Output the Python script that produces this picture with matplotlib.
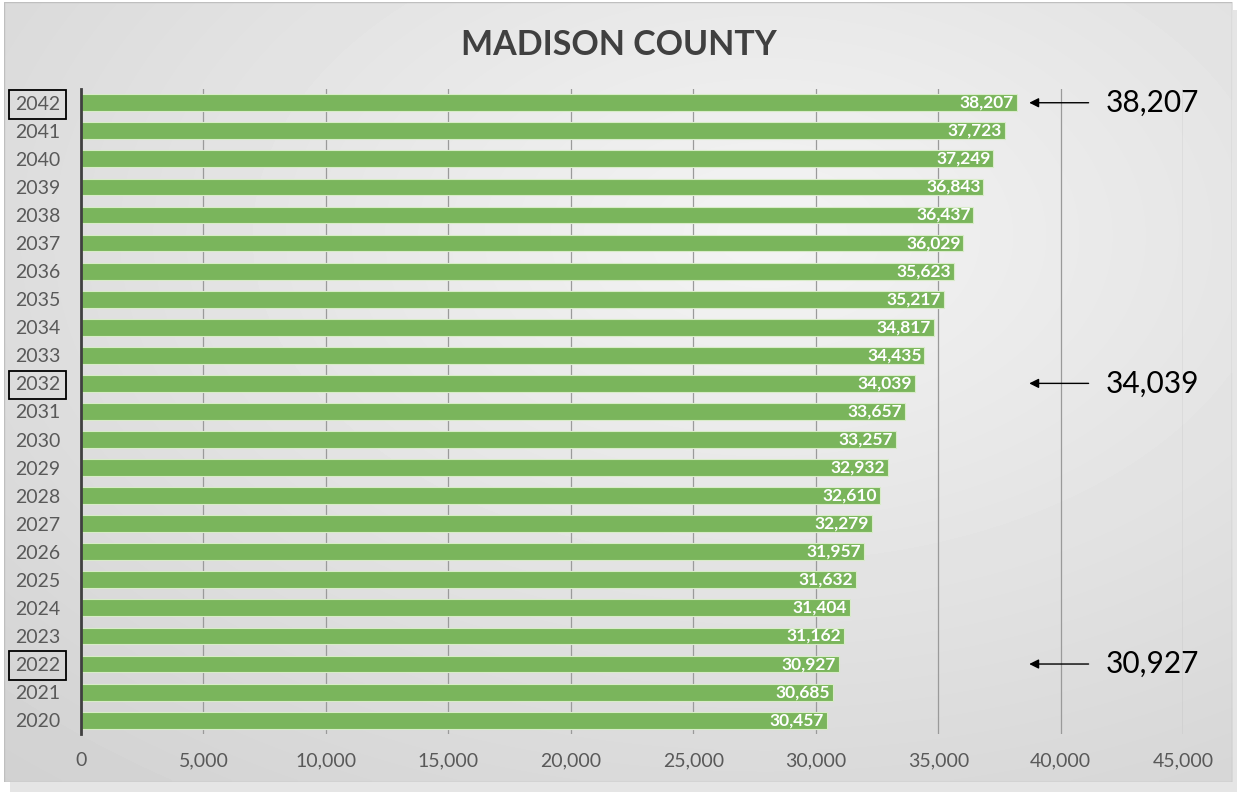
import numpy as np
import matplotlib.pyplot as plt
from matplotlib.patches import Rectangle

plt.rcParams['font.family'] = ['Lato', 'DejaVu Sans']

years = [str(y) for y in range(2020, 2043)]
population = [30457, 30685, 30927, 31162, 31404, 31632, 31957, 32279, 32610,
              32932, 33257, 33657, 34039, 34435, 34817, 35217, 35623, 36029,
              36437, 36843, 37249, 37723, 38207]
callout_years = ['2022', '2032', '2042']
x_ticks = list(range(0, 45001, 5000))

bar_color = '#7ab55c'
text_gray = '#595959'

fig = plt.figure(figsize=(12.37, 7.92), dpi=100)
fig.patch.set_facecolor('white')

# drop shadow + gradient panel behind the chart
shadow = fig.add_axes([0.008, 0.0, 0.992, 0.988])
shadow.axis('off')
shadow.imshow(np.ones((2, 2)), cmap='gray', vmin=0, vmax=1.4, alpha=0.35,
              extent=[0, 1, 0, 1], aspect='auto')
bg = fig.add_axes([0.003, 0.012, 0.993, 0.985])
bg.axis('off')
xx, yy = np.meshgrid(np.linspace(0, 1, 300), np.linspace(0, 1, 200))
shade = 0.955 - 0.13 * np.sqrt(((xx - 0.62) / 0.9) ** 2 + ((yy - 0.3) / 0.9) ** 2)
bg.imshow(shade, cmap='gray', vmin=0, vmax=1, extent=[0, 1, 0, 1],
          aspect='auto', interpolation='bilinear')
bg.add_patch(Rectangle((0, 0), 1, 1, transform=bg.transAxes, fill=False,
                       edgecolor='#bfbfbf', lw=1.0))

ax = fig.add_axes([0.0655, 0.073, 0.891, 0.815])
ax.patch.set_alpha(0)

ypos = np.arange(len(years))
ax.barh(ypos, population, height=0.6, color=bar_color, edgecolor='#d8ecc8',
        linewidth=0.8, zorder=3)

for y, v in zip(ypos, population):
    ax.text(v - 120, y, f'{v:,}', ha='right', va='center', color='white',
            fontsize=12.5, fontweight='bold', zorder=4)

ax.set_xlim(0, 45000)
ax.set_ylim(-0.5, len(years) - 0.5)
ax.set_xticks(x_ticks)
ax.set_xticklabels([f'{t:,}' for t in x_ticks])
ax.set_yticks(ypos)
ax.set_yticklabels(years)
ax.tick_params(axis='both', length=0, labelsize=14, labelcolor=text_gray)
ax.tick_params(axis='x', pad=13)
ax.tick_params(axis='y', pad=15)
ax.grid(axis='x', color='#9a9a9a', linewidth=0.9, zorder=1)
for side in ['top', 'right', 'bottom']:
    ax.spines[side].set_visible(False)
ax.spines['left'].set_color('#404040')
ax.spines['left'].set_linewidth(2)
ax.spines['left'].set_zorder(5)

# boxed year labels and value callouts
for lab in ax.get_yticklabels():
    if lab.get_text() in callout_years:
        lab.set_bbox(dict(boxstyle='square,pad=0.3', facecolor='none',
                          edgecolor='black', linewidth=1.3))

for yr in callout_years:
    i = years.index(yr)
    v = population[i]
    ax.annotate('', xy=(38600, i), xytext=(41250, i),
                arrowprops=dict(arrowstyle='-|>', color='black', lw=1,
                                mutation_scale=14), annotation_clip=False)
    ax.text(41850, i, f'{v:,}', ha='left', va='center', fontsize=21.5,
            color='black', clip_on=False)

fig.text(0.5, 0.943, 'MADISON COUNTY', ha='center', va='center',
         fontsize=24.5, fontweight='bold', color='#404040')

fig.savefig('out.png', dpi=100)
